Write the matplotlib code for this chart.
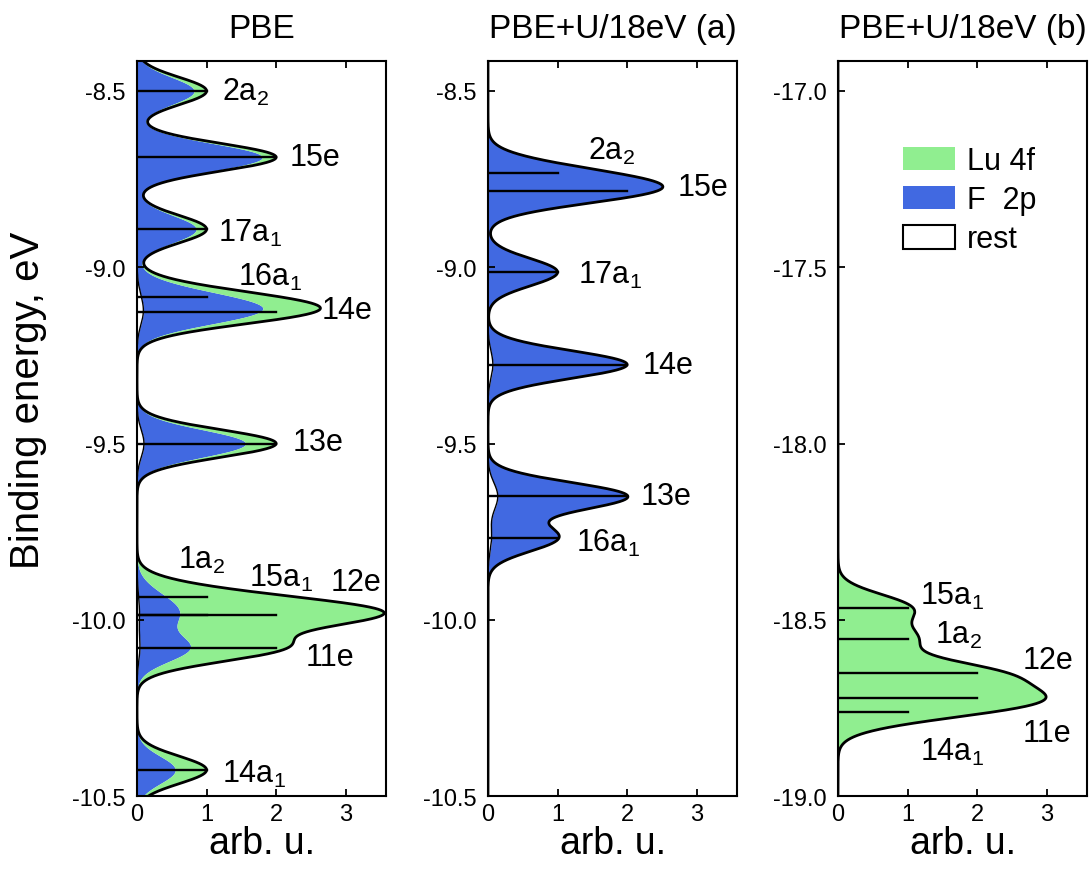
import numpy as np
import matplotlib
matplotlib.use("Agg")
import matplotlib.pyplot as plt
from matplotlib.patches import Patch

plt.rcParams["font.family"] = ["Liberation Sans", "DejaVu Sans"]
plt.rcParams["mathtext.fontset"] = "custom"
plt.rcParams["mathtext.rm"] = "Liberation Sans"
plt.rcParams["mathtext.it"] = "Liberation Sans"

# ---------------------------------------------------------
# Datos: niveles (energia, peso) y fraccion de cada caracter
# ---------------------------------------------------------
pbe_names = ["2a$_2$", "15e", "17a$_1$", "16a$_1$", "14e", "13e",
             "1a$_2$", "15a$_1$", "12e", "11e", "14a$_1$"]
pbe_energy = [-8.500, -8.688, -8.892, -9.085, -9.128, -9.500,
              -9.935, -9.986, -9.986, -10.080, -10.426]
pbe_weight = [1, 2, 1, 1, 2, 2, 1, 1, 2, 2, 1]
pbe_lu = [0.18, 0.10, 0.15, 0.35, 0.30, 0.22, 0.78, 0.84, 0.84, 0.63, 0.45]
pbe_rest = [0.0, 0.0, 0.0, 0.02, 0.04, 0.05, 0.01, 0.01, 0.01, 0.02, 0.0]

ua_names = ["2a$_2$", "15e", "17a$_1$", "14e", "13e", "16a$_1$"]
ua_energy = [-8.733, -8.784, -9.014, -9.276, -9.650, -9.767]
ua_weight = [1, 2, 1, 2, 2, 1]
ua_lu = [0.0, 0.0, 0.0, 0.0, 0.0, 0.0]
ua_rest = [0.0, 0.0, 0.0, 0.035, 0.07, 0.05]

ub_names = ["15a$_1$", "1a$_2$", "12e", "11e", "14a$_1$"]
ub_energy = [-18.466, -18.554, -18.651, -18.722, -18.761]
ub_weight = [1, 1, 2, 2, 1]
ub_lu = [1.0, 1.0, 1.0, 1.0, 1.0]
ub_rest = [0.0, 0.0, 0.0, 0.0, 0.0]

# posiciones de las etiquetas (x en arb. u., y en eV)
pbe_label_pos = [(1.22, -8.500), (2.20, -8.688), (1.16, -8.901), (1.45, -9.026),
                 (2.66, -9.120), (2.24, -9.497), (0.59, -9.830), (1.61, -9.881),
                 (2.78, -9.892), (2.42, -10.105), (1.22, -10.435)]
ua_label_pos = [(1.44, -8.670), (2.72, -8.773), (1.29, -9.020), (2.23, -9.276),
                (2.19, -9.650), (1.27, -9.781)]
ub_label_pos = [(1.18, -18.432), (1.40, -18.543), (2.65, -18.614),
                (2.65, -18.821), (1.18, -18.875)]

SIGMA = 0.039
GREEN = "#90ee90"
BLUE = "#4169e1"


def espectro(y, energias, pesos, fracs):
    total = np.zeros_like(y)
    for e, w, f in zip(energias, pesos, fracs):
        total += w * f * np.exp(-((y - e) ** 2) / (2 * SIGMA ** 2))
    return total


def panel(ax, titulo, names, energy, weight, lu, rest, label_pos, ylim, yticks):
    y = np.linspace(ylim[0], ylim[1], 3000)
    rest_f = np.array(rest)
    lu_f = np.array(lu)
    f_f = 1 - lu_f - rest_f

    r = espectro(y, energy, weight, rest_f)
    f = espectro(y, energy, weight, f_f)
    l = espectro(y, energy, weight, lu_f)

    ax.fill_betweenx(y, 0, r, color="white", lw=0)
    ax.fill_betweenx(y, r, r + f, color=BLUE, lw=0)
    ax.fill_betweenx(y, r + f, r + f + l, color=GREEN, lw=0)
    ax.plot(r, y, color="black", lw=1.0)
    ax.plot(r + f + l, y, color="black", lw=2.0)

    # barras de los niveles
    for e, w in zip(energy, weight):
        ax.plot([0, w], [e, e], color="black", lw=1.7)

    for name, (tx, ty) in zip(names, label_pos):
        ax.text(tx, ty, name, fontsize=22, ha="left", va="center")

    ax.set_xlim(0, 3.58)
    ax.set_ylim(*ylim)
    ax.set_xticks([0, 1, 2, 3])
    ax.set_yticks(yticks)
    ax.set_yticklabels([f"{t:.1f}" for t in yticks])
    ax.tick_params(axis="both", direction="in", labelsize=17, length=5, width=1.3)
    ax.tick_params(axis="x", top=True, pad=5)
    ax.tick_params(axis="y", pad=8)
    for s in ax.spines.values():
        s.set_linewidth(1.5)
    ax.set_title(titulo, fontsize=24, pad=17)
    ax.set_xlabel("arb. u.", fontsize=27, labelpad=0)


fig = plt.figure(figsize=(10.89, 8.70), dpi=100)
ax1 = fig.add_axes([0.1258, 0.0839, 0.2287, 0.8448])
ax2 = fig.add_axes([0.4481, 0.0839, 0.2287, 0.8448])
ax3 = fig.add_axes([0.7695, 0.0839, 0.2287, 0.8448])

yt12 = [-10.5, -10.0, -9.5, -9.0, -8.5]
yt3 = [-19.0, -18.5, -18.0, -17.5, -17.0]
panel(ax1, "PBE", pbe_names, pbe_energy, pbe_weight, pbe_lu, pbe_rest,
      pbe_label_pos, (-10.5, -8.415), yt12)
panel(ax2, "PBE+U/18eV (a)", ua_names, ua_energy, ua_weight, ua_lu, ua_rest,
      ua_label_pos, (-10.5, -8.415), yt12)
panel(ax3, "PBE+U/18eV (b)", ub_names, ub_energy, ub_weight, ub_lu, ub_rest,
      ub_label_pos, (-19.0, -16.915), yt3)

ax1.set_ylabel("Binding energy, eV", fontsize=29)
ax1.yaxis.set_label_coords(-0.36, 0.54)

handles = [Patch(facecolor=GREEN, edgecolor="none", label="Lu 4f"),
           Patch(facecolor=BLUE, edgecolor="none", label="F  2p"),
           Patch(facecolor="white", edgecolor="black", lw=1.5, label="rest")]
ax3.legend(handles=handles, loc="upper left", bbox_to_anchor=(0.2, 0.905),
           frameon=False, fontsize=22, handlelength=1.7, handleheight=0.8,
           labelspacing=0.3, borderpad=0, handletextpad=0.4)

fig.savefig("out.png", dpi=100)
